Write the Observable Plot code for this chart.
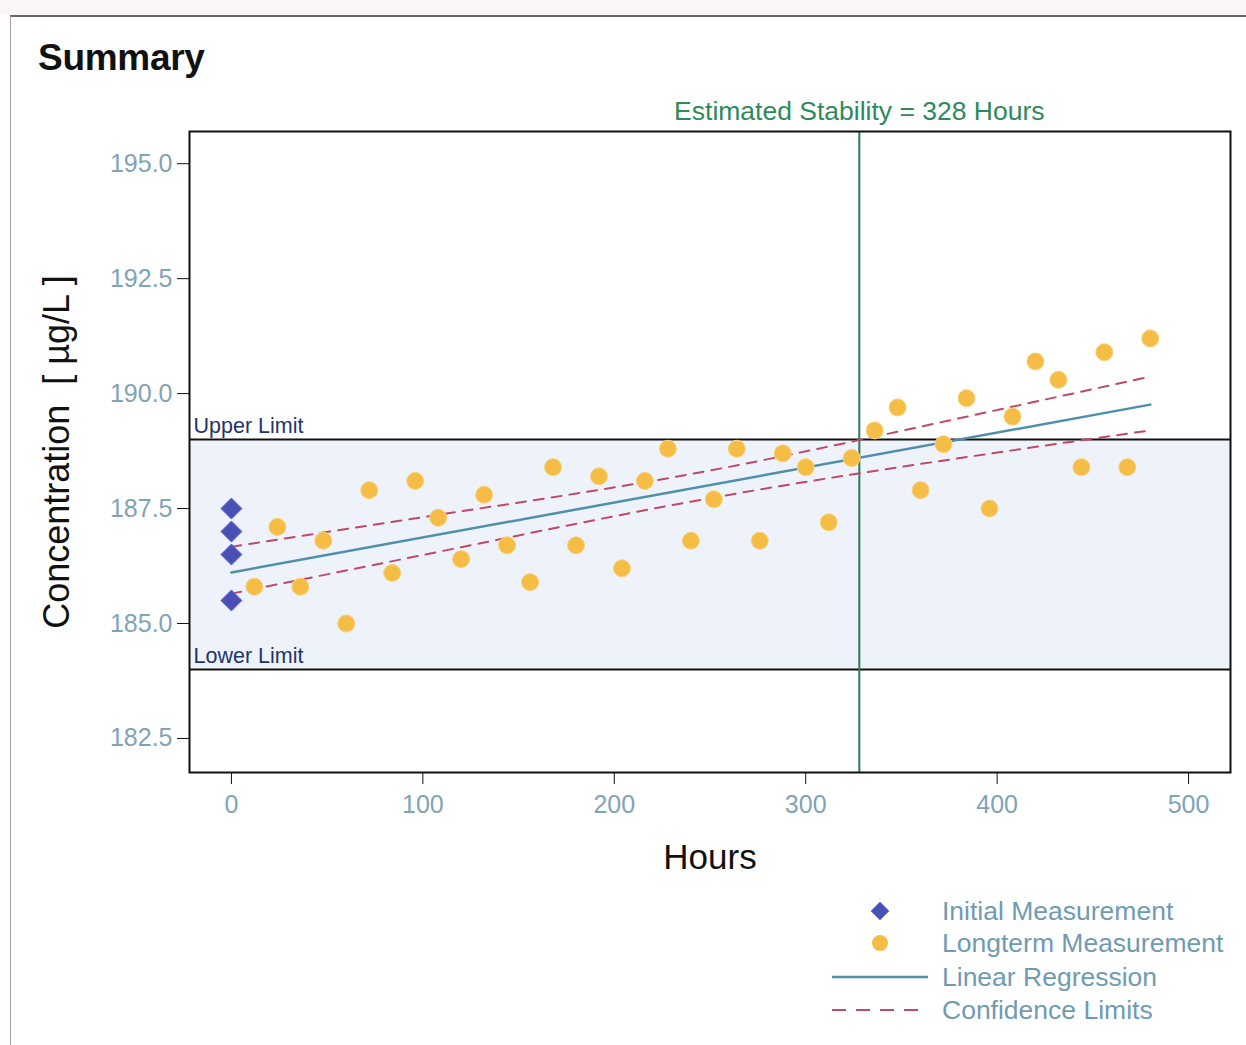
<!DOCTYPE html>
<html><head><meta charset="utf-8">
<script src="https://cdn.jsdelivr.net/npm/d3@7"></script>
<script src="https://cdn.jsdelivr.net/npm/@observablehq/plot@0.6"></script>
<style>
body{margin:0;background:#fff;font-family:"Liberation Sans",Arial,sans-serif;}
#wrap{position:relative;width:1246px;height:1045px;overflow:hidden;background:#fff;}
#topband{position:absolute;left:0;top:0;width:1246px;height:15px;background:#fbf5f5;}
#border{position:absolute;left:10px;top:15px;width:1240px;height:1040px;border-top:2px solid #666;border-left:1px solid #b0a0a0;}
#title{position:absolute;left:38px;top:37px;font-size:37px;font-weight:bold;color:#111;letter-spacing:-0.3px;}
#chart{position:absolute;left:0;top:90px;}
#legend{position:absolute;left:0;top:0;}
</style></head>
<body><div id="wrap"><div id="topband"></div><div id="border"></div><div id="title">Summary</div><div id="chart"></div><div id="legend"></div></div>
<script>
// ---- data ----
const initialHours = [0, 0, 0, 0];
const initialValues = [187.5, 187.0, 186.5, 185.5];
const longtermHours = [12,24,36,48,60,72,84,96,108,120,132,144,156,168,180,192,204,216,228,240,252,264,276,288,300,312,324,336,348,360,372,384,396,408,420,432,444,456,468,480];
const longtermValues = [185.8,187.1,185.8,186.8,185.0,187.9,186.1,188.1,187.3,186.4,187.8,186.7,185.9,188.4,186.7,188.2,186.2,188.1,188.8,186.8,187.7,188.8,186.8,188.7,188.4,187.2,188.6,189.2,189.7,187.9,188.9,189.9,187.5,189.5,190.7,190.3,188.4,190.9,188.4,191.2];
const regressionHours = [0, 480];
const regressionValues = [186.11, 189.76];
const confHours = [0, 120, 240, 360, 480];
const confUpper = [186.67, 187.44, 188.25, 189.28, 190.37];
const confLower = [185.65, 186.66, 187.65, 188.47, 189.2];
const upperLimit = 189.0;
const lowerLimit = 184.0;
const stabilityHours = 328;
const xTicks = [0, 100, 200, 300, 400, 500];
const yTicks = [182.5, 185.0, 187.5, 190.0, 192.5, 195.0];
const xDomain = [-21.9, 521.9];
const yDomain = [181.76, 195.7];

const initial = initialHours.map((h, i) => ({h, v: initialValues[i]}));
const longterm = longtermHours.map((h, i) => ({h, v: longtermValues[i]}));
const regression = regressionHours.map((h, i) => ({h, v: regressionValues[i]}));
const upper = confHours.map((h, i) => ({h, v: confUpper[i]}));
const lower = confHours.map((h, i) => ({h, v: confLower[i]}));
const limits = [{name: "Upper Limit", v: upperLimit}, {name: "Lower Limit", v: lowerLimit}];

const tickColor = "#7fa3b7";
const font = "'Liberation Sans', Arial, sans-serif";

const chart = Plot.plot({
  width: 1246,
  height: 792,
  marginLeft: 189,
  marginRight: 16,
  marginTop: 41,
  marginBottom: 110,
  style: {fontFamily: font, background: "transparent", overflow: "visible"},
  x: {domain: xDomain, ticks: xTicks},
  y: {domain: yDomain, ticks: yTicks},
  marks: [
    Plot.rect([{lo: lowerLimit, hi: upperLimit}], {x1: () => xDomain[0], x2: () => xDomain[1], y1: "lo", y2: "hi", fill: "#eef2fa"}),
    Plot.ruleY(limits, {y: "v", stroke: "#111", strokeWidth: 2}),
    Plot.text(limits, {x: () => xDomain[0], y: "v", text: "name", textAnchor: "start", dx: 4, dy: -13, fontSize: 21.5, fill: "#1e3569"}),
    Plot.ruleX([stabilityHours], {stroke: "#2e7a55", strokeWidth: 2}),
    Plot.text(["Estimated Stability = " + stabilityHours + " Hours"], {x: () => stabilityHours, frameAnchor: "top", dy: -30, fontSize: 26.5, fill: "#2e8a5a"}),
    Plot.line(upper, {x: "h", y: "v", curve: "natural", stroke: "#c04a66", strokeWidth: 2, strokeDasharray: "10,8"}),
    Plot.line(lower, {x: "h", y: "v", curve: "natural", stroke: "#c04a66", strokeWidth: 2, strokeDasharray: "10,8"}),
    Plot.line(regression, {x: "h", y: "v", stroke: "#4e8fa9", strokeWidth: 2.5}),
    Plot.dot(longterm, {x: "h", y: "v", r: 8.5, fill: "#f5bc46", stroke: "#f9d27a", strokeWidth: 1}),
    Plot.dot(initial, {x: "h", y: "v", symbol: "diamond2", r: 9.5, fill: "#4a4fb3", stroke: "#6a6fd0", strokeWidth: 1}),
    Plot.frame({stroke: "#111", strokeWidth: 2}),
    Plot.axisX({ticks: xTicks, tickSize: 12, tickPadding: 11, fontSize: 25, stroke: "#111", fill: tickColor, label: null, tickFormat: d3.format("d")}),
    Plot.axisY({ticks: yTicks, tickSize: 12, tickPadding: 5, fontSize: 25, stroke: "#111", fill: tickColor, label: null, tickFormat: d3.format(".1f")}),
    Plot.text(["Hours"], {frameAnchor: "bottom", dy: 96, fontSize: 35, fill: "#111"}),
    Plot.text(["Concentration  [ µg/L ]"], {frameAnchor: "left", textAnchor: "middle", dx: -132, rotate: -90, fontSize: 36, fill: "#111"})
  ]
});
document.getElementById("chart").appendChild(chart);

// ---- legend ----
const legendItems = [
  {label: "Initial Measurement", kind: "diamond"},
  {label: "Longterm Measurement", kind: "circle"},
  {label: "Linear Regression", kind: "line"},
  {label: "Confidence Limits", kind: "dash"}
];
const legendY = [911, 943, 977, 1010];
const svg = d3.select("#legend").append("svg").attr("width", 1246).attr("height", 1045).style("position", "absolute").style("left", 0).style("top", 0);
legendItems.forEach((it, i) => {
  const y = legendY[i];
  if (it.kind === "diamond") svg.append("path").attr("d", d3.symbol(d3.symbolDiamond2, 220)()).attr("transform", `translate(880,${y})`).attr("fill", "#4a4fb3");
  if (it.kind === "circle") svg.append("circle").attr("cx", 880).attr("cy", y).attr("r", 8).attr("fill", "#f5bc46");
  if (it.kind === "line") svg.append("line").attr("x1", 832).attr("x2", 928).attr("y1", y).attr("y2", y).attr("stroke", "#4e8fa9").attr("stroke-width", 2.5);
  if (it.kind === "dash") svg.append("line").attr("x1", 832).attr("x2", 928).attr("y1", y).attr("y2", y).attr("stroke", "#c04a66").attr("stroke-width", 2).attr("stroke-dasharray", "14,10");
  svg.append("text").attr("x", 942).attr("y", y).attr("dy", "0.35em").attr("font-size", 26.5).attr("font-family", font).attr("fill", "#6f9bb2").text(it.label);
});
</script></body></html>
